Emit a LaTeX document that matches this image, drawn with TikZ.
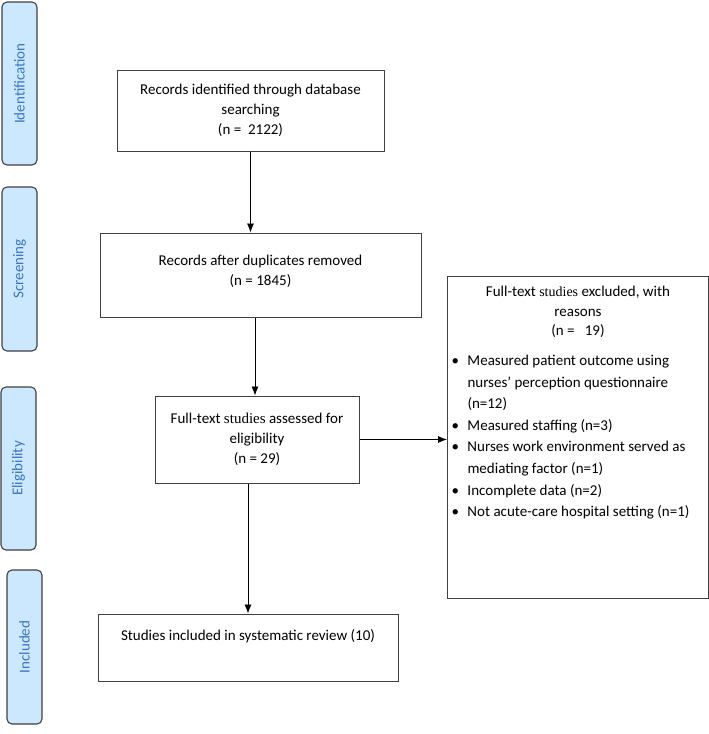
\documentclass[tikz,border=0pt]{standalone}
\usepackage{fontspec}
\setmainfont{Carlito}
\newfontfamily\timesfont{Liberation Serif}
\usetikzlibrary{arrows.meta,positioning,calc}

\newcommand{\exitem}[1]{\par\hangindent=16pt\hangafter=1\noindent\makebox[16pt][l]{\textbullet}#1}

\begin{document}
\begin{tikzpicture}[x=1pt,y=-1pt]
\colorlet{stage edge}{black!75}
\definecolor{stage area}{RGB}{204,232,255}
\definecolor{stage text}{RGB}{58,116,196}
\tikzset{
     stage/.style={draw=stage edge, fill=stage area, line width=1.1pt, rounded corners=5pt,
       rotate=90, minimum height=35pt, inner sep=0pt, text=stage text,
       font=\fontsize{15}{17}\selectfont},
     record/.style={draw=black!75, line width=1pt, align=center, inner sep=0pt,
       font=\fontsize{15}{20}\selectfont},
     flow/.style={-{Latex[length=9pt,width=7pt]}, line width=0.8pt}}

\useasboundingbox (0,0) rectangle (709,734);

% The stages
\node (idstage)     [stage, minimum width=163pt] at (19.5,83.5) {Identification};
\node (screenstage) [stage, minimum width=164pt] at (19.5,269)  {Screening};
\node (eligstage)   [stage, minimum width=163pt] at (18.5,468.5) {Eligibility};
\node (inclstage)   [stage, minimum width=154pt] at (24.5,647)  {Included};

% The boxes
\node (firstbox)  [record, minimum width=267pt, minimum height=81pt] at (250.5,110.5)
  {Records identified through database\\ searching\\ (n = \ 2122)};
\node (secondbox) [record, minimum width=321pt, minimum height=84pt] at (260.5,275)
  {Records after duplicates removed\\ (n = 1845)\\[-10pt]~};
\node (thirdbox)  [record, minimum width=204pt, minimum height=87pt] at (257,439.5)
  {Full-text {\timesfont studies} assessed for\\ eligibility\\ (n = 29)};
\node (lastbox)   [record, minimum width=300pt, minimum height=67pt] at (248,647.5)
  {Studies included in systematic review (10)\\[5pt]~};

\node (excludebox) [record, anchor=north west, align=left] at (447,276)
  {\parbox[c][322pt][t]{261pt}{\vspace*{10pt}
   {\centering\fontsize{15}{19.5}\selectfont Full-text {\timesfont\fontsize{14}{19.5}\selectfont studies} excluded, with\\ reasons\\ (n = \ \ 19)\par}
   \vspace{8pt}
   {\raggedright\leftskip=4pt\rightskip=8pt plus 1fil\fontsize{15}{21.6}\selectfont
   \exitem{Measured patient outcome using nurses’ perception questionnaire (n=12)}
   \exitem{Measured staffing (n=3)}
   \exitem{Nurses work environment served as mediating factor (n=1)}
   \exitem{Incomplete data (n=2)}
   \exitem{Not acute-care hospital setting (n=1)}\par}}};

% The arrows
\draw [flow] (firstbox.south) -- (firstbox.south |- secondbox.north);
\draw [flow] ([xshift=-2pt]thirdbox.north |- secondbox.south) -- ([xshift=-2pt]thirdbox.north);
\draw [flow] (thirdbox.east) -- (thirdbox.east -| excludebox.west);
\draw [flow] (lastbox.north |- thirdbox.south) -- (lastbox.north);
\end{tikzpicture}
\end{document}
